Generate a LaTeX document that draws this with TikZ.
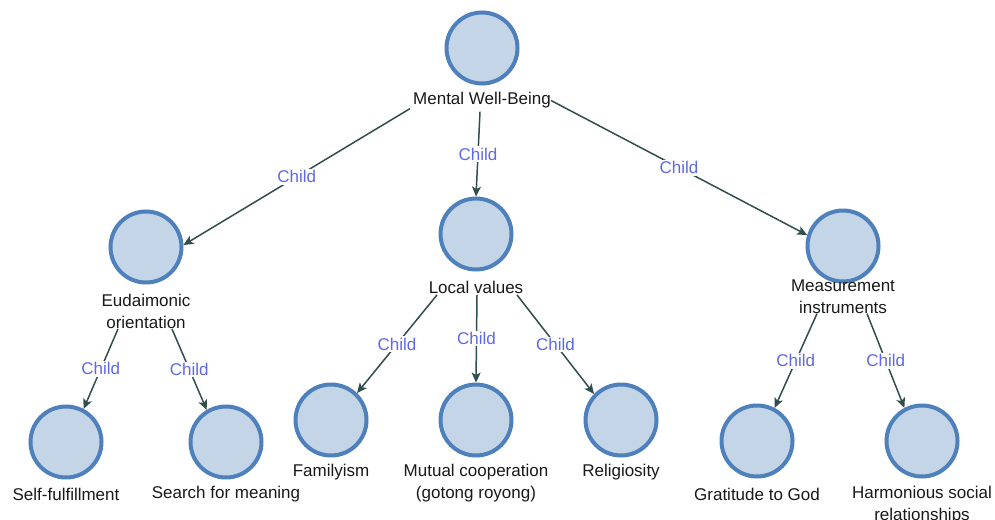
\documentclass[tikz,border=0pt]{standalone}
\usepackage{fontspec}
\setmainfont{Liberation Sans}
\usetikzlibrary{arrows.meta}

\definecolor{circfill}{RGB}{197,213,232}
\definecolor{circline}{RGB}{78,128,188}
\definecolor{edgecol}{RGB}{50,78,76}
\definecolor{childcol}{RGB}{95,105,228}
\definecolor{txtcol}{RGB}{25,25,25}

\tikzset{
  concept/.style={circle, draw=circline, fill=circfill, line width=4pt, minimum size=71pt, inner sep=0pt},
  caption/.style={inner sep=0pt, align=center, text=txtcol, font=\fontsize{17}{22}\selectfont},
  link/.style={draw=edgecol, line width=1.5pt, -{Stealth[length=10pt,width=9pt,inset=2.5pt]}},
  childtag/.style={fill=white, inner sep=1.5pt, text=childcol, font=\fontsize{17}{20}\selectfont}
}

\begin{document}
\begin{tikzpicture}[x=1pt,y=-1pt]
  \useasboundingbox[fill=white] (0,0) rectangle (995,519);

  % concept circles
  \node[concept] (mwb)    at (482,48)  {};
  \node[concept] (eud)    at (146,247) {};
  \node[concept] (loc)    at (476,234) {};
  \node[concept] (meas)   at (843,246) {};
  \node[concept] (self)   at (66,442)  {};
  \node[concept] (search) at (226,442) {};
  \node[concept] (fam)    at (331,420) {};
  \node[concept] (mut)    at (476,420) {};
  \node[concept] (rel)    at (621,420) {};
  \node[concept] (grat)   at (757,441) {};
  \node[concept] (harm)   at (922,441) {};

  % captions under the circles
  \node[caption] (mwbL)    at (482,100.5) {Mental Well-Being};
  \node[caption] (eudL)    at (146,311.5) {Eudaimonic\\orientation};
  \node[caption] (locL)    at (476,287.5) {Local values};
  \node[caption] (measL)   at (843,296.5) {Measurement\\instruments};
  \node[caption] (selfL)   at (66,494.5)  {Self-fulfillment};
  \node[caption] (searchL) at (226,494.5) {Search for meaning};
  \node[caption] (famL)    at (331,472)   {Familyism};
  \node[caption] (mutL)    at (476,483.5) {Mutual cooperation\\(gotong royong)};
  \node[caption] (relL)    at (621,472)   {Religiosity};
  \node[caption] (gratL)   at (757,494.5) {Gratitude to God};
  \node[caption] (harmL)   at (922,505.5) {Harmonious social\\relationships};

  % parent -> child links
  \draw[link] ([xshift=-72pt]mwbL.south) -- node[childtag] {Child} (eud.3);
  \draw[link] ([xshift=-2pt,yshift=-3pt]mwbL.south) -- node[childtag] {Child} (loc.north);
  \draw[link] (mwbL.east) -- node[childtag] {Child} (meas.163);

  \draw[link] ([xshift=-28pt]eudL.south) -- node[childtag] {Child} (self.62);
  \draw[link] ([xshift=26pt]eudL.south) -- node[childtag] {Child} (search.121);

  \draw[link] ([xshift=-39pt,yshift=-1pt]locL.south) -- node[childtag] {Child} (fam.46);
  \draw[link] ([xshift=1pt,yshift=-1pt]locL.south) -- node[childtag] {Child} (mut.north);
  \draw[link] ([xshift=41pt,yshift=-1pt]locL.south) -- node[childtag] {Child} (rel.136);

  \draw[link] ([xshift=-26pt]measL.south) -- node[childtag] {Child} (grat.62);
  \draw[link] ([xshift=24pt]measL.south) -- node[childtag] {Child} (harm.118);
\end{tikzpicture}
\end{document}
